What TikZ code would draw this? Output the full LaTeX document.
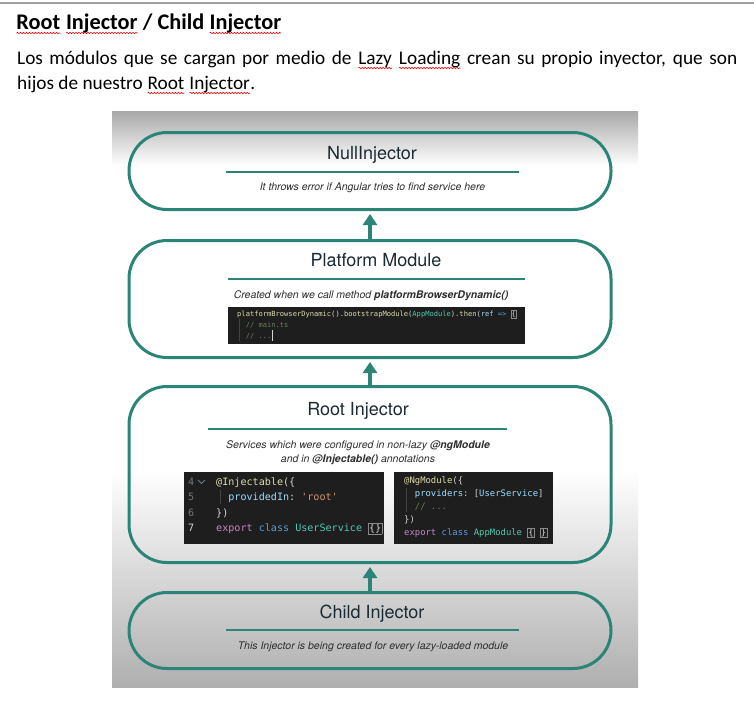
\documentclass[tikz,border=0pt]{standalone}
\usepackage{fontspec}
\setmainfont{Carlito}
\setmonofont{DejaVu Sans Mono}
\newfontfamily\heros{TeX Gyre Heros}
\usetikzlibrary{arrows.meta, decorations.pathmorphing}

\definecolor{injteal}{HTML}{2B8577}
\definecolor{injtitle}{HTML}{1B2A33}
\definecolor{injnote}{HTML}{2E2E2E}
\definecolor{rulegray}{HTML}{A0A0A0}
\definecolor{bgtop}{HTML}{A8A8A8}
\definecolor{bgbot}{HTML}{AFAFAF}
\definecolor{codebg}{HTML}{1E1E1E}
\definecolor{cplain}{HTML}{D4D4D4}
\definecolor{cfun}{HTML}{DCDCAA}
\definecolor{ctype}{HTML}{4EC9B0}
\definecolor{ckey}{HTML}{569CD6}
\definecolor{cexp}{HTML}{C586C0}
\definecolor{cstr}{HTML}{CE9178}
\definecolor{cprop}{HTML}{9CDCFE}
\definecolor{ccom}{HTML}{6A7F63}
\definecolor{cnum}{HTML}{6E7681}
\definecolor{cguide}{HTML}{444444}
\definecolor{cbox}{HTML}{8A8A8A}

\newcommand{\spellwave}[1]{\tikz[baseline=(w.base)]{\node[inner sep=0pt, outer sep=0pt, anchor=base] (w) {#1}; \draw[red, line width=0.6pt, decorate, decoration={snake, amplitude=0.7pt, segment length=3pt}] ([yshift=-4pt]w.base west) -- ([yshift=-4pt]w.base east);}}
\newcommand{\brk}[1]{{\setlength{\fboxsep}{0.4pt}\setlength{\fboxrule}{0.5pt}\fcolorbox{cbox}{codebg}{#1}}}

\begin{document}
\begin{tikzpicture}[x=1pt, y=-1pt, >={Triangle[width=14pt, length=11pt]},
	injbox/.style={draw=injteal, line width=3pt, rounded corners=38pt, minimum width=482pt, inner sep=0pt},
	link/.style={->, draw=injteal, line width=3.5pt, shorten >=3pt},
	boxtitle/.style={anchor=base, inner sep=0pt, text=injtitle, font=\heros\fontsize{18}{22}\selectfont},
	boxnote/.style={anchor=base, inner sep=0pt, text=injnote, font=\heros\fontsize{10.5}{14}\selectfont\itshape},
	boxrule/.style={draw=injteal, line width=1.3pt},
	codebox/.style={fill=codebg, anchor=north west, inner sep=0pt},
	codetext/.style={anchor=base west, inner sep=0pt, text=cplain},
	guide/.style={draw=cguide, line width=0.7pt}]
	\useasboundingbox[fill=white] (0,0) rectangle (754,715);
	\draw[rulegray, line width=1.2pt] (0,3) -- (754,3);
	\node[anchor=base west, inner sep=0pt, font=\fontsize{22.3}{26}\selectfont\bfseries] (doc_title) at (16,29) {\spellwave{Root} \spellwave{Injector} / Child \spellwave{Injector}};
	\node[anchor=base west, inner sep=0pt, font=\fontsize{19.3}{25}\selectfont] (doc_text) at (17,64) {\vtop{\hbox to 720pt{Los módulos que se cargan por medio de \spellwave{Lazy} \spellwave{Loading} crean su propio inyector, que son}\hbox{hijos de nuestro \spellwave{Root} \spellwave{Injector}.}}};

	\shade[top color=bgtop, bottom color=white] (112,111) rectangle (638,165.5);
	\fill[white] (112,165) rectangle (638,470.5);
	\shade[top color=white, bottom color=bgbot] (112,470) rectangle (638,687);

	\node[injbox, minimum height=77pt] (null_inj) at (370,171) {};
	\node[injbox, minimum height=117pt] (platform_mod) at (370,299) {};
	\node[injbox, minimum height=176pt] (root_inj) at (370,474.5) {};
	\node[injbox, minimum height=76pt] (child_inj) at (370,630.5) {};
	\draw[link] (platform_mod) -- (null_inj);
	\draw[link] (root_inj) -- (platform_mod);
	\draw[link] (child_inj) -- (root_inj);

	\node[boxtitle] (null_title) at (372,159) {NullInjector};
	\draw[boxrule] (226,172) -- (519,172);
	\node[boxnote] (null_note) at (372.5,190) {It throws error if Angular tries to find service here};

	\node[boxtitle] (platform_title) at (376,266) {Platform Module};
	\draw[boxrule] (228,279) -- (525,279);
	\node[boxnote] (platform_note) at (371,298) {Created when we call method \textbf{platformBrowserDynamic()}};
	\node[codebox, minimum width=297pt, minimum height=37pt] (main_code) at (228,307) {};
	\node[codetext, font=\ttfamily\fontsize{7.1}{11}\selectfont] (main_lines) at (237,316) {\vtop{\hbox{\textcolor{cfun}{platformBrowserDynamic}().\textcolor{cfun}{bootstrapModule}(\textcolor{ctype}{AppModule}).\textcolor{cfun}{then}(\textcolor{cprop}{ref} \textcolor{ckey}{=>} \brk{\{}}\hbox{\ \ \textcolor{ccom}{// main.ts}}\hbox{\ \ \textcolor{ccom}{// ...}}}};
	\draw[guide] (239.5,319) -- (239.5,341);
	\draw[cplain, line width=0.8pt] (272.5,330) -- (272.5,341);

	\node[boxtitle] (root_title) at (358,415) {Root Injector};
	\draw[boxrule] (208,429) -- (507,429);
	\node[boxnote] (root_note) at (358,448) {\begin{tabular}[t]{@{}c@{}}Services which were configured in non-lazy \textbf{@ngModule}\\ and in \textbf{@Injectable()} annotations\end{tabular}};
	\node[codebox, minimum width=200pt, minimum height=72pt] (injectable_code) at (184,472) {};
	\node[codetext, text=cnum, font=\ttfamily\fontsize{10.1}{15.5}\selectfont] (injectable_nums) at (188,485) {\vtop{\hbox{4}\hbox{5}\hbox{6}\hbox{\textcolor{cplain}{7}}}};
	\draw[cnum, line width=0.8pt] (198,480) -- (201.5,483.5) -- (205,480);
	\node[codetext, font=\ttfamily\fontsize{10.1}{15.5}\selectfont] (injectable_lines) at (216,485) {\vtop{\hbox{\textcolor{cfun}{@Injectable}(\{}\hbox{\ \ \textcolor{cprop}{providedIn}: \textcolor{cstr}{'root'}}\hbox{\})}\hbox{\textcolor{cexp}{export} \textcolor{ckey}{class} \textcolor{ctype}{UserService} \brk{\{\}}}}};
	\draw[guide] (220,490) -- (220,504);
	\node[codebox, minimum width=159pt, minimum height=72pt] (ngmodule_code) at (394,472) {};
	\node[codetext, font=\ttfamily\fontsize{8.9}{13}\selectfont] (ngmodule_lines) at (404,483.5) {\vtop{\hbox{\textcolor{cfun}{@NgModule}(\{}\hbox{\ \ \textcolor{cprop}{providers}: [\textcolor{cprop}{UserService}]}\hbox{\ \ \textcolor{ccom}{// ...}}\hbox{\})}\hbox{\textcolor{cexp}{export} \textcolor{ckey}{class} \textcolor{ctype}{AppModule} \brk{\{} \brk{\}}}}};
	\draw[guide] (406,488) -- (406,512);

	\node[boxtitle] (child_title) at (372,618) {Child Injector};
	\draw[boxrule] (226,630) -- (519,630);
	\node[boxnote] (child_note) at (373,649) {This Injector is being created for every lazy-loaded module};
\end{tikzpicture}
\end{document}
